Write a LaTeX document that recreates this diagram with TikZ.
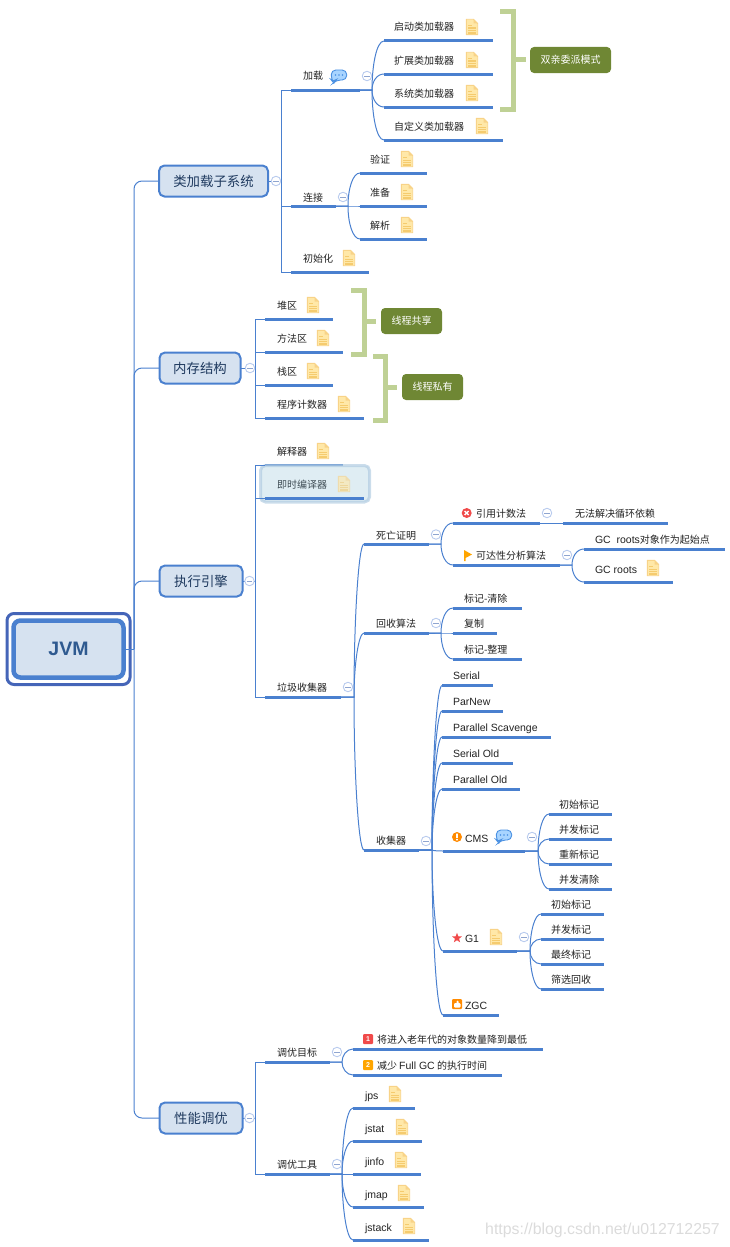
\documentclass[tikz,border=0pt]{standalone}
\usepackage{fontspec}
\setmainfont{Noto Sans CJK SC}
\newfontfamily\la{Liberation Sans}
\usetikzlibrary{calc,shapes.geometric}
\definecolor{lineblue}{HTML}{4A80CF}
\definecolor{boxfill}{HTML}{D6E2F0}
\definecolor{boxtext}{HTML}{1F3A5F}
\definecolor{roottext}{HTML}{2F5A90}
\definecolor{rootouter}{HTML}{4565B8}
\definecolor{bracketg}{HTML}{BFD195}
\definecolor{labelg}{HTML}{6F8734}
\definecolor{minusc}{HTML}{B9CBEE}
\definecolor{minusd}{HTML}{8FA5D0}
\definecolor{notefill}{HTML}{FFE8A8}
\definecolor{notedraw}{HTML}{F8D388}
\definecolor{noteline}{HTML}{F5CB6E}
\definecolor{txt}{HTML}{222222}
\definecolor{bubblefill}{HTML}{A8D4FF}
\definecolor{lineblueb}{HTML}{4A90E2}
\definecolor{haloline}{HTML}{A9C6DE}
\definecolor{halofill}{HTML}{DFEDF3}
\definecolor{halotext}{HTML}{3F4D55}
\definecolor{redmark}{HTML}{F04A4A}
\definecolor{yellowmark}{HTML}{FFA500}
\definecolor{orangemark}{HTML}{FF8A00}
\tikzset{
  bar/.style={fill=lineblue,inner sep=0pt,outer sep=0pt,minimum height=3pt},
  lab/.style={anchor=base west,inner sep=0pt,outer sep=0pt,text=txt,font=\fontsize{10}{12}\selectfont},
  conn/.style={draw=lineblue,line width=1pt},
  lone/.style={draw=lineblue,line width=2pt,fill=boxfill,rounded corners=5.5pt,inner sep=0pt,outer sep=0pt,text=boxtext,font=\fontsize{13.4}{16}\selectfont},
  mnode/.style={circle,draw=minusc,fill=white,line width=.9pt,minimum size=9.5pt,inner sep=0pt},
  glabel/.style={fill=labelg,rounded corners=4pt,inner sep=0pt,outer sep=0pt,text=white,font=\fontsize{10}{12}\selectfont},
  brack/.style={draw=bracketg,line width=5pt}
}
\newcommand{\topic}[7]{%
  \node[bar,minimum width={(#3-#2)*1pt}] (#1) at ({(#2+#3)/2},#4) {};
  \node[lab] (#1t) at (#5,{#6+4}) {#7};}
\newcommand{\crv}[3]{%
  \draw[conn] let \p1=(#1.east),\p2=(#3.west) in (\p1) -- (#2pt,\y1)
    .. controls (#2pt,{\y1+0.5*(\y2-\y1)}) and ({#2pt+4.5pt},\y2) .. (\p2);}
\newcommand{\sqc}[3]{%
  \draw[conn] let \p1=(#1.east) in (\p1) -- (#2pt,\y1) |- (#3.west);}
\newcommand{\mn}[3]{%
  \node[mnode] (#1) at (#2,#3) {};
  \draw[draw=minusd,line width=.8pt] ([xshift=-2.7pt]#1.center) -- ([xshift=2.7pt]#1.center);}
\newcommand{\noteic}[2]{%
  \begin{scope}[shift={(#1,#2)}]
    \draw[fill=notefill,draw=notedraw,line width=.9pt,line join=round] (-5.7,-7.7) -- (1.5,-7.7) -- (5.7,-3.5) -- (5.7,7.7) -- (-5.7,7.7) -- cycle;
    \fill[notedraw] (1.5,-7.7) -- (1.5,-3.5) -- (5.7,-3.5) -- cycle;
    \draw[noteline,line width=1.4pt] (-3.7,-1.5) -- (-.5,-1.5) (-3.7,1.2) -- (3.7,1.2) (-3.7,3.6) -- (3.7,3.6) (-3.7,6) -- (3.7,6);
  \end{scope}}
\newcommand{\speech}[2]{%
  \begin{scope}[shift={(#1,#2)}]
    \draw[fill=bubblefill,draw=lineblueb,line width=.9pt,rounded corners=4.5pt] (-7.7,-6) -- (7.7,-6) -- (7.7,4) -- (-3,4) -- (-5.5,6.7) -- (-7.7,4) -- cycle;
    \fill[lineblueb] (-3.5,-1) circle (.95) (0,-1) circle (.95) (3.5,-1) circle (.95);
  \end{scope}}
\begin{document}
\begin{tikzpicture}[x=1pt,y=-1pt]
\useasboundingbox (0,0) rectangle (729,1247);
% root
\node[draw=rootouter,line width=3pt,rounded corners=7pt,minimum width=123pt,minimum height=71pt,inner sep=0pt] (rootout) at (68.5,649) {};
\node[draw=lineblue,line width=4.5pt,fill=boxfill,rounded corners=7pt,minimum width=110pt,minimum height=57pt,inner sep=0pt,outer sep=0pt,text=roottext,font=\la\bfseries\fontsize{19.5}{22}\selectfont] (root) at (68.5,649) {JVM};
\coordinate (stem0) at (134,649);
% level 1
\node[lone,minimum width=109pt,minimum height=31pt] (a) at (213.5,181) {类加载子系统};
\node[lone,minimum width=81pt,minimum height=31pt] (b) at (200,368) {内存结构};
\node[lone,minimum width=83pt,minimum height=31pt] (c) at (201,581) {执行引擎};
\node[lone,minimum width=83pt,minimum height=31pt] (d) at (201,1118) {性能调优};
% class loading
\topic{a1}{291}{360}{90}{303}{76}{加载}
\topic{a11}{384}{493}{41}{394}{27}{启动类加载器}
\topic{a12}{384}{493}{74}{394}{60}{扩展类加载器}
\topic{a13}{384}{493}{107}{394}{93}{系统类加载器}
\topic{a14}{384}{503}{140}{394}{126}{自定义类加载器}
\topic{a2}{291}{336}{206}{303}{197}{连接}
\topic{a21}{360}{427}{173}{370}{159}{验证}
\topic{a22}{360}{427}{206}{370}{192}{准备}
\topic{a23}{360}{427}{239}{370}{225}{解析}
\topic{a3}{291}{369}{272}{303}{258}{初始化}
\noteic{472}{27}\noteic{472}{60}\noteic{472}{93}\noteic{482}{126}
\noteic{407}{159}\noteic{407}{192}\noteic{407}{225}\noteic{349}{258}
\speech{339}{76}
% memory
\topic{b1}{265}{333}{319}{277}{305}{堆区}
\topic{b2}{265}{343}{352}{277}{338}{方法区}
\topic{b3}{265}{333}{385}{277}{371}{栈区}
\topic{b4}{265}{364}{418}{277}{404}{程序计数器}
\noteic{313}{305}\noteic{323}{338}\noteic{313}{371}\noteic{344}{404}
% execution
\topic{c1}{265}{343}{465}{277}{451}{解释器}
\noteic{323}{451}
% highlight behind the selected topic
\fill[halofill,rounded corners=4pt] (260.5,465.5) rectangle (369.5,502);
\draw[draw=haloline,line width=3pt,draw opacity=.6,rounded corners=5pt] (260.5,465.5) rectangle (369.5,502);
\noteic{344}{484}
\fill[halofill,opacity=.35] (337,475) rectangle (351,493);
\topic{c2}{265}{364}{498}{277}{484}{\textcolor{halotext}{即时编译器}}
\topic{c3}{265}{341}{697}{277}{687}{垃圾收集器}
\topic{e1}{364}{429}{544}{376}{535}{死亡证明}
\topic{e2}{364}{429}{633}{376}{623}{回收算法}
\topic{e3}{364}{419}{850}{376}{840}{收集器}
\topic{f1}{453}{540}{523}{476}{513}{引用计数法}
\topic{f11}{563}{668}{523}{575}{513}{无法解决循环依赖}
\topic{f2}{453}{560}{565}{476}{555}{可达性分析算法}
\topic{f21}{584}{725}{549}{595}{539}{{\la\fontsize{10.5}{12}\selectfont GC\ \ roots}对象作为起始点}
\topic{f22}{584}{673}{582}{595}{569}{{\la\fontsize{10.5}{12}\selectfont GC roots}}
\noteic{653}{568}
\topic{g1}{453}{522}{608}{464}{598}{标记-清除}
\topic{g2}{453}{497}{633}{464}{623}{复制}
\topic{g3}{453}{522}{659}{464}{649}{标记-整理}
\topic{h1}{442}{493}{685.5}{453}{675}{{\la\fontsize{10.5}{12}\selectfont Serial}}
\topic{h2}{442}{503}{711}{453}{701}{{\la\fontsize{10.5}{12}\selectfont ParNew}}
\topic{h3}{442}{551}{737}{453}{727}{{\la\fontsize{10.5}{12}\selectfont Parallel Scavenge}}
\topic{h4}{442}{513}{763}{453}{753}{{\la\fontsize{10.5}{12}\selectfont Serial Old}}
\topic{h5}{442}{520}{789}{453}{779}{{\la\fontsize{10.5}{12}\selectfont Parallel Old}}
\topic{h6}{443}{525}{851}{465}{838}{{\la\fontsize{10.5}{12}\selectfont CMS}}
\topic{i1}{549}{612}{814}{559}{804}{初始标记}
\topic{i2}{549}{612}{839}{559}{829}{并发标记}
\topic{i3}{549}{612}{864}{559}{854}{重新标记}
\topic{i4}{549}{612}{889}{559}{879}{并发清除}
\topic{h7}{443}{517}{951}{465}{938}{{\la\fontsize{10.5}{12}\selectfont G1}}
\topic{j1}{541}{604}{914}{551}{904}{初始标记}
\topic{j2}{541}{604}{939}{551}{929}{并发标记}
\topic{j3}{541}{604}{964}{551}{954}{最终标记}
\topic{j4}{541}{604}{989}{551}{979}{筛选回收}
\topic{h8}{443}{499}{1015}{465}{1005}{{\la\fontsize{10.5}{12}\selectfont ZGC}}
\speech{504}{836}
\noteic{496}{937}
% tuning
\topic{d1}{265}{330}{1062}{277}{1052}{调优目标}
\topic{d11}{353}{543}{1049}{377}{1039}{将进入老年代的对象数量降到最低}
\topic{d12}{353}{502}{1075}{377}{1065}{减少 {\la\fontsize{10.5}{12}\selectfont Full GC} 的执行时间}
\topic{d2}{265}{330}{1174}{277}{1164}{调优工具}
\topic{d21}{353}{415}{1108}{365}{1095}{{\la\fontsize{10.5}{12}\selectfont jps}}
\topic{d22}{353}{422}{1141}{365}{1128}{{\la\fontsize{10.5}{12}\selectfont jstat}}
\topic{d23}{353}{421}{1174}{365}{1161}{{\la\fontsize{10.5}{12}\selectfont jinfo}}
\topic{d24}{353}{424}{1207}{365}{1194}{{\la\fontsize{10.5}{12}\selectfont jmap}}
\topic{d25}{353}{429}{1240}{365}{1227}{{\la\fontsize{10.5}{12}\selectfont jstack}}
\noteic{395}{1094}\noteic{402}{1127}\noteic{401}{1160}\noteic{404}{1193}\noteic{409}{1226}
% connectors
\draw[conn] (root.east) -- (stem0);
\foreach \nn in {a,b,c,d}{\draw[conn,rounded corners=8pt] (stem0) |- (\nn.west);}
\sqc{a}{281}{a1}\sqc{a}{281}{a2}\sqc{a}{281}{a3}
\crv{a1}{372}{a11}\crv{a1}{372}{a12}\crv{a1}{372}{a13}\crv{a1}{372}{a14}
\crv{a2}{348}{a21}\crv{a2}{348}{a22}\crv{a2}{348}{a23}
\sqc{b}{255}{b1}\sqc{b}{255}{b2}\sqc{b}{255}{b3}\sqc{b}{255}{b4}
\sqc{c}{255}{c1}\sqc{c}{255}{c2}\sqc{c}{255}{c3}
\crv{c3}{354}{e1}\crv{c3}{354}{e2}\crv{c3}{354}{e3}
\crv{e1}{441}{f1}\crv{e1}{441}{f2}
\draw[conn] (f1.east) -- (f11.west);
\crv{f2}{572}{f21}\crv{f2}{572}{f22}
\crv{e2}{441}{g1}\crv{e2}{441}{g2}\crv{e2}{441}{g3}
\crv{e3}{432}{h1}\crv{e3}{432}{h2}\crv{e3}{432}{h3}\crv{e3}{432}{h4}
\crv{e3}{432}{h5}\crv{e3}{432}{h6}\crv{e3}{432}{h7}\crv{e3}{432}{h8}
\crv{h6}{538}{i1}\crv{h6}{538}{i2}\crv{h6}{538}{i3}\crv{h6}{538}{i4}
\crv{h7}{530}{j1}\crv{h7}{530}{j2}\crv{h7}{530}{j3}\crv{h7}{530}{j4}
\sqc{d}{255}{d1}\sqc{d}{255}{d2}
\crv{d1}{342}{d11}\crv{d1}{342}{d12}
\crv{d2}{342}{d21}\crv{d2}{342}{d22}\crv{d2}{342}{d23}\crv{d2}{342}{d24}\crv{d2}{342}{d25}
% collapse buttons
\mn{ma}{276}{181}\mn{mb}{250}{368}\mn{mc}{249.5}{581}\mn{md}{249.5}{1118}
\mn{ma1}{367}{76}\mn{ma2}{343}{197}
\mn{mc3}{348}{687}\mn{me1}{436}{534.5}\mn{me2}{436}{623}\mn{me3}{426}{841}
\mn{mf1}{547}{513}\mn{mf2}{567}{555}
\mn{mh6}{532}{837}\mn{mh7}{524}{937}
\mn{md1}{337}{1052}\mn{md2}{337}{1164}
% brackets and labels
\node[glabel,minimum width=81pt,minimum height=26pt] (p1) at (570.5,60) {双亲委派模式};
\node[glabel,minimum width=61pt,minimum height=26pt] (p2) at (411.5,321) {线程共享};
\node[glabel,minimum width=61pt,minimum height=26pt] (p3) at (432.5,387) {线程私有};
\draw[brack] (500,11.5) -- (513,11.5) -- (513,109.5) -- (500,109.5) (513,60) -- (526,60);
\draw[brack] (351,290) -- (364.5,290) -- (364.5,354) -- (351,354) (364.5,321) -- (376,321);
\draw[brack] (373,356) -- (385,356) -- (385,420) -- (373,420) (385,387) -- (397,387);
% marker icons
\fill[redmark] (466.7,513) circle (5);
\draw[white,line width=1.4pt] (464.7,511) -- (468.7,515) (464.7,515) -- (468.7,511);
\fill[yellowmark] (464,550) -- (472,554.5) -- (465.5,558) -- (465.5,561) -- (464,561) -- cycle;
\fill[orangemark] (457,837) circle (5);
\fill[white] (456.2,833.7) rectangle (457.8,837.8) (456.2,838.8) rectangle (457.8,840.3);
\node[star,star points=5,star point ratio=2.4,fill=redmark,inner sep=0pt,minimum size=10.5pt] (starm) at (457,938) {};
\fill[orangemark,rounded corners=1pt] (452,999) rectangle (462,1009);
\fill[white,rounded corners=1pt] (454,1003) rectangle (460.5,1007.5) (456.5,1000.5) rectangle (458.5,1004);
\fill[redmark,rounded corners=1pt] (363,1034) rectangle (373,1044);
\node[text=white,inner sep=0pt,font=\la\bfseries\fontsize{7}{8}\selectfont] (one) at (368,1039) {1};
\fill[yellowmark,rounded corners=1pt] (363,1060) rectangle (373,1070);
\node[text=white,inner sep=0pt,font=\la\bfseries\fontsize{7}{8}\selectfont] (two) at (368,1065) {2};
% watermark
\node[anchor=base west,inner sep=0pt,text=black!14,font=\la\fontsize{15.86}{18}\selectfont] (wm) at (485,1234) {https://blog.csdn.net/u012712257};
\end{tikzpicture}
\end{document}
